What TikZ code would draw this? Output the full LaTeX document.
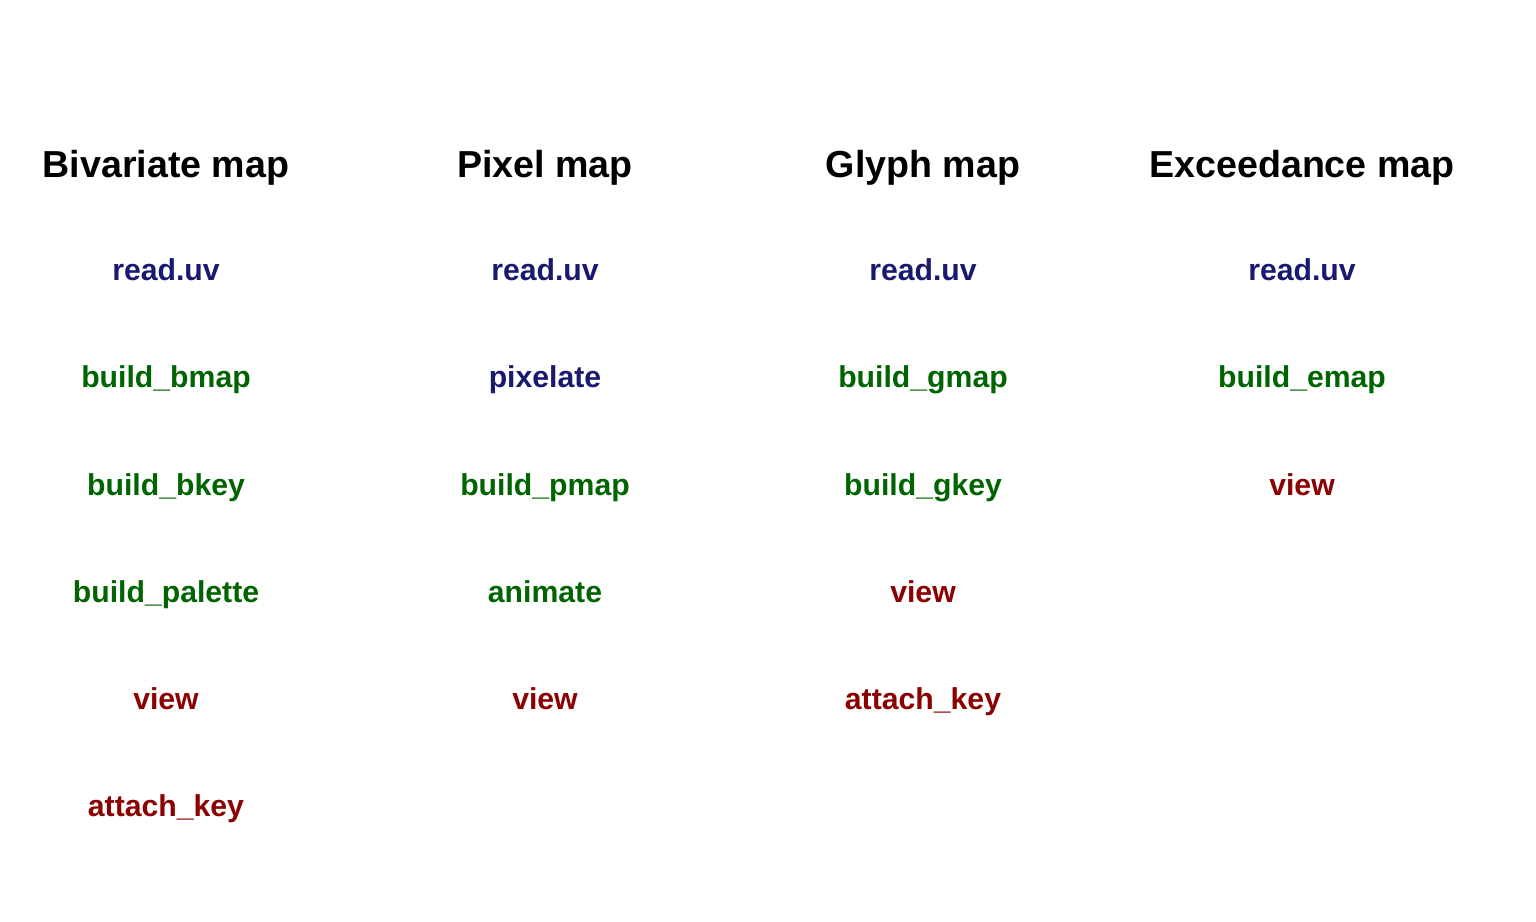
\documentclass[tikz,border=0pt]{standalone}
\usepackage{fontspec}
\setmainfont{Liberation Sans}
\definecolor{fnblue}{HTML}{191970}
\definecolor{fngreen}{HTML}{006400}
\definecolor{fnred}{HTML}{8B0000}
\begin{document}
\begin{tikzpicture}[x=0.5pt,y=-0.5pt,
  ttl/.style={anchor=base,inner sep=0pt,font=\fontsize{18.8}{22}\selectfont\bfseries},
  fn/.style={anchor=base,inner sep=0pt,font=\fontsize{15.1}{18}\selectfont\bfseries},
  rd/.style={fn,text=fnblue},
  bd/.style={fn,text=fngreen},
  vw/.style={fn,text=fnred}]
\useasboundingbox (0,0) rectangle (1536,921);
% column 1
\node[ttl] (t1) at (166,177) {Bivariate map};
\node[rd] (a1) at (166,280) {read.uv};
\node[bd] (a2) at (166,387.5) {build\_bmap};
\node[bd] (a3) at (166,495) {build\_bkey};
\node[bd] (a4) at (166,602) {build\_palette};
\node[vw] (a5) at (166,709) {view};
\node[vw] (a6) at (166,816) {attach\_key};
% column 2
\node[ttl] (t2) at (545,177) {Pixel map};
\node[rd] (b1) at (545,280) {read.uv};
\node[rd] (b2) at (545,387.5) {pixelate};
\node[bd] (b3) at (545,495) {build\_pmap};
\node[bd] (b4) at (545,602) {animate};
\node[vw] (b5) at (545,709) {view};
% column 3
\node[ttl] (t3) at (923,177) {Glyph map};
\node[rd] (c1) at (923,280) {read.uv};
\node[bd] (c2) at (923,387.5) {build\_gmap};
\node[bd] (c3) at (923,495) {build\_gkey};
\node[vw] (c4) at (923,602) {view};
\node[vw] (c5) at (923,709) {attach\_key};
% column 4
\node[ttl] (t4) at (1302,177) {Exceedance map};
\node[rd] (d1) at (1302,280) {read.uv};
\node[bd] (d2) at (1302,387.5) {build\_emap};
\node[vw] (d3) at (1302,495) {view};
\end{tikzpicture}
\end{document}
